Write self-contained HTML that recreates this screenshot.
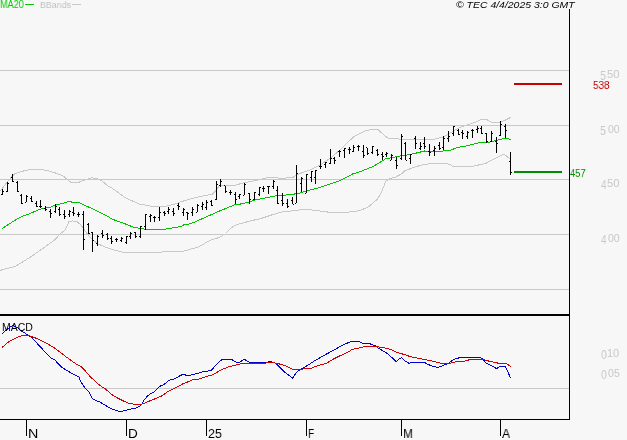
<!DOCTYPE html>
<html><head><meta charset="utf-8"><style>
html,body{margin:0;padding:0;background:#f7f7f7;}
#c{position:relative;width:627px;height:440px;overflow:hidden;background:#f7f7f7;font-family:"Liberation Sans",sans-serif;}
svg{position:absolute;left:0;top:0;}
.t{position:absolute;white-space:nowrap;line-height:1;transform-origin:0 0;will-change:transform;}
</style></head><body><div id="c">
<svg width="627" height="440" viewBox="0 0 627 440">
<rect x="0" y="70" width="569" height="1" fill="#c8c8c8"/>
<rect x="0" y="125" width="569" height="1" fill="#c8c8c8"/>
<rect x="0" y="179" width="569" height="1" fill="#c8c8c8"/>
<rect x="0" y="234" width="569" height="1" fill="#c8c8c8"/>
<rect x="0" y="289" width="569" height="1" fill="#c8c8c8"/>
<rect x="0" y="388" width="569" height="1" fill="#c8c8c8"/>
<polyline points="0.0,191.0 1.8,189.0 4.5,185.5 7.7,181.4 10.9,177.7 15.0,173.6 21.4,171.5 29.4,169.6 38.9,169.3 46.9,170.4 54.9,172.8 62.8,175.6 67.6,179.9 70.8,182.3 78.8,182.3 85.2,179.9 91.6,177.9 96.3,178.3 101.1,180.4 107.5,185.5 115.0,190.0 124.5,197.3 139.0,204.0 153.6,206.6 164.6,206.6 174.1,204.3 180.9,201.8 190.0,199.1 198.6,196.8 212.3,194.1 215.7,190.7 219.1,185.9 224.6,185.6 235.0,185.4 243.6,182.7 256.4,180.5 269.0,177.3 280.0,178.2 292.0,177.8 298.8,174.0 311.0,169.6 319.8,165.3 330.9,157.7 340.5,149.6 347.3,142.7 354.1,136.6 360.9,133.2 366.4,130.5 371.0,129.5 375.0,129.0 377.3,129.0 384.5,135.5 388.2,138.2 406.4,139.5 424.5,139.5 430.0,139.7 437.3,138.6 444.1,136.6 450.9,132.5 460.0,127.4 470.5,123.9 477.8,121.2 480.2,119.8 487.4,120.0 491.7,122.2 498.9,122.5 504.6,120.5 511.0,117.2" fill="none" stroke="#c8c8c8" stroke-width="1" shape-rendering="crispEdges"/>
<polyline points="0.0,270.5 3.0,269.5 14.8,266.6 29.5,257.7 44.3,247.4 54.5,240.0 60.0,234.1 65.5,229.5 69.1,221.4 72.7,220.9 77.3,221.8 80.9,225.0 84.5,230.0 87.3,234.0 91.8,239.0 97.3,243.6 106.4,247.6 117.7,251.0 124.5,252.5 145.0,252.7 150.0,252.5 170.0,251.7 183.4,251.3 198.7,246.9 210.2,240.2 219.8,237.3 225.5,233.5 231.2,227.8 237.0,224.5 250.4,221.0 261.9,218.2 273.3,214.4 284.8,211.1 290.0,211.2 298.8,210.0 307.5,209.5 316.3,210.5 325.1,211.8 339.1,213.0 351.4,211.8 360.0,210.5 368.2,207.1 377.7,198.9 381.8,191.4 385.9,181.1 388.6,179.1 395.5,177.1 400.9,174.3 405.0,170.6 411.8,168.2 420.0,165.5 424.5,164.2 439.0,163.3 450.0,164.2 453.0,166.8 471.0,166.8 486.0,163.2 504.0,154.0 510.5,159.5" fill="none" stroke="#c8c8c8" stroke-width="1" shape-rendering="crispEdges"/>
<polyline points="1.8,228.6 9.1,224.1 18.2,218.2 23.6,215.9 30.9,213.2 40.0,209.1 43.6,208.5 50.0,207.3 55.5,205.0 61.8,203.6 69.1,201.2 71.8,202.1 78.2,202.1 82.7,204.5 90.0,207.7 106.4,215.5 111.8,219.0 124.5,223.6 133.6,227.3 146.8,229.4 164.6,229.4 167.3,228.4 175.5,227.7 180.9,226.4 185.0,224.3 190.0,223.9 193.2,222.7 205.5,217.3 217.7,211.8 225.9,208.4 235.0,204.6 240.0,204.1 248.0,202.5 256.0,199.8 263.9,198.2 271.9,196.6 277.5,195.4 290.0,194.8 299.1,193.2 308.2,190.5 317.3,188.2 326.4,185.2 330.0,184.1 338.0,181.3 344.3,178.5 352.3,174.1 360.2,171.7 365.0,169.7 370.0,167.7 373.2,166.5 385.5,158.9 399.1,156.2 405.9,155.2 415.0,153.4 424.5,151.0 436.0,151.6 450.5,150.3 456.9,147.5 467.8,145.7 479.6,142.5 487.4,142.6 494.6,140.9 504.6,138.3 511.0,139.4" fill="none" stroke="#00c000" stroke-width="1" shape-rendering="crispEdges"/>
<rect x="2" y="189" width="1" height="6" fill="#000"/>
<rect x="1" y="194" width="1" height="1" fill="#000"/>
<rect x="3" y="191" width="1" height="1" fill="#000"/>
<rect x="7" y="182" width="1" height="10" fill="#000"/>
<rect x="6" y="191" width="1" height="1" fill="#000"/>
<rect x="8" y="183" width="1" height="1" fill="#000"/>
<rect x="12" y="174" width="1" height="8" fill="#000"/>
<rect x="11" y="177" width="1" height="1" fill="#000"/>
<rect x="13" y="181" width="1" height="1" fill="#000"/>
<rect x="17" y="181" width="1" height="11" fill="#000"/>
<rect x="16" y="182" width="1" height="1" fill="#000"/>
<rect x="18" y="191" width="1" height="1" fill="#000"/>
<rect x="21" y="194" width="1" height="10" fill="#000"/>
<rect x="20" y="195" width="1" height="1" fill="#000"/>
<rect x="22" y="203" width="1" height="1" fill="#000"/>
<rect x="26" y="195" width="1" height="7" fill="#000"/>
<rect x="25" y="202" width="1" height="1" fill="#000"/>
<rect x="27" y="196" width="1" height="1" fill="#000"/>
<rect x="31" y="196" width="1" height="6" fill="#000"/>
<rect x="30" y="198" width="1" height="1" fill="#000"/>
<rect x="32" y="201" width="1" height="1" fill="#000"/>
<rect x="36" y="201" width="1" height="6" fill="#000"/>
<rect x="35" y="203" width="1" height="1" fill="#000"/>
<rect x="37" y="206" width="1" height="1" fill="#000"/>
<rect x="40" y="200" width="1" height="8" fill="#000"/>
<rect x="39" y="206" width="1" height="1" fill="#000"/>
<rect x="41" y="206" width="1" height="1" fill="#000"/>
<rect x="45" y="206" width="1" height="5" fill="#000"/>
<rect x="44" y="208" width="1" height="1" fill="#000"/>
<rect x="46" y="209" width="1" height="1" fill="#000"/>
<rect x="50" y="209" width="1" height="9" fill="#000"/>
<rect x="49" y="211" width="1" height="1" fill="#000"/>
<rect x="51" y="213" width="1" height="1" fill="#000"/>
<rect x="55" y="204" width="1" height="9" fill="#000"/>
<rect x="54" y="211" width="1" height="1" fill="#000"/>
<rect x="56" y="206" width="1" height="1" fill="#000"/>
<rect x="59" y="207" width="1" height="9" fill="#000"/>
<rect x="58" y="209" width="1" height="1" fill="#000"/>
<rect x="60" y="214" width="1" height="1" fill="#000"/>
<rect x="64" y="210" width="1" height="9" fill="#000"/>
<rect x="63" y="214" width="1" height="1" fill="#000"/>
<rect x="65" y="216" width="1" height="1" fill="#000"/>
<rect x="69" y="210" width="1" height="7" fill="#000"/>
<rect x="68" y="214" width="1" height="1" fill="#000"/>
<rect x="70" y="211" width="1" height="1" fill="#000"/>
<rect x="73" y="207" width="1" height="9" fill="#000"/>
<rect x="72" y="212" width="1" height="1" fill="#000"/>
<rect x="74" y="213" width="1" height="1" fill="#000"/>
<rect x="78" y="212" width="1" height="5" fill="#000"/>
<rect x="77" y="214" width="1" height="1" fill="#000"/>
<rect x="79" y="214" width="1" height="1" fill="#000"/>
<rect x="83" y="211" width="1" height="39" fill="#000"/>
<rect x="82" y="214" width="1" height="1" fill="#000"/>
<rect x="84" y="239" width="1" height="1" fill="#000"/>
<rect x="88" y="223" width="1" height="11" fill="#000"/>
<rect x="87" y="224" width="1" height="1" fill="#000"/>
<rect x="89" y="233" width="1" height="1" fill="#000"/>
<rect x="92" y="232" width="1" height="20" fill="#000"/>
<rect x="91" y="232" width="1" height="1" fill="#000"/>
<rect x="93" y="240" width="1" height="1" fill="#000"/>
<rect x="97" y="235" width="1" height="11" fill="#000"/>
<rect x="96" y="243" width="1" height="1" fill="#000"/>
<rect x="98" y="236" width="1" height="1" fill="#000"/>
<rect x="102" y="230" width="1" height="8" fill="#000"/>
<rect x="101" y="233" width="1" height="1" fill="#000"/>
<rect x="103" y="235" width="1" height="1" fill="#000"/>
<rect x="107" y="233" width="1" height="7" fill="#000"/>
<rect x="106" y="234" width="1" height="1" fill="#000"/>
<rect x="108" y="238" width="1" height="1" fill="#000"/>
<rect x="111" y="236" width="1" height="8" fill="#000"/>
<rect x="110" y="238" width="1" height="1" fill="#000"/>
<rect x="112" y="241" width="1" height="1" fill="#000"/>
<rect x="116" y="238" width="1" height="4" fill="#000"/>
<rect x="115" y="239" width="1" height="1" fill="#000"/>
<rect x="117" y="239" width="1" height="1" fill="#000"/>
<rect x="121" y="237" width="1" height="5" fill="#000"/>
<rect x="120" y="240" width="1" height="1" fill="#000"/>
<rect x="122" y="238" width="1" height="1" fill="#000"/>
<rect x="126" y="236" width="1" height="8" fill="#000"/>
<rect x="125" y="242" width="1" height="1" fill="#000"/>
<rect x="127" y="236" width="1" height="1" fill="#000"/>
<rect x="130" y="232" width="1" height="7" fill="#000"/>
<rect x="129" y="236" width="1" height="1" fill="#000"/>
<rect x="131" y="233" width="1" height="1" fill="#000"/>
<rect x="135" y="232" width="1" height="6" fill="#000"/>
<rect x="134" y="232" width="1" height="1" fill="#000"/>
<rect x="136" y="236" width="1" height="1" fill="#000"/>
<rect x="140" y="226" width="1" height="12" fill="#000"/>
<rect x="139" y="236" width="1" height="1" fill="#000"/>
<rect x="141" y="226" width="1" height="1" fill="#000"/>
<rect x="145" y="214" width="1" height="16" fill="#000"/>
<rect x="144" y="226" width="1" height="1" fill="#000"/>
<rect x="146" y="214" width="1" height="1" fill="#000"/>
<rect x="150" y="214" width="1" height="8" fill="#000"/>
<rect x="149" y="216" width="1" height="1" fill="#000"/>
<rect x="151" y="215" width="1" height="1" fill="#000"/>
<rect x="154" y="216" width="1" height="6" fill="#000"/>
<rect x="153" y="217" width="1" height="1" fill="#000"/>
<rect x="155" y="217" width="1" height="1" fill="#000"/>
<rect x="159" y="207" width="1" height="14" fill="#000"/>
<rect x="158" y="217" width="1" height="1" fill="#000"/>
<rect x="160" y="212" width="1" height="1" fill="#000"/>
<rect x="164" y="211" width="1" height="5" fill="#000"/>
<rect x="163" y="212" width="1" height="1" fill="#000"/>
<rect x="165" y="213" width="1" height="1" fill="#000"/>
<rect x="168" y="207" width="1" height="7" fill="#000"/>
<rect x="167" y="211" width="1" height="1" fill="#000"/>
<rect x="169" y="209" width="1" height="1" fill="#000"/>
<rect x="173" y="208" width="1" height="8" fill="#000"/>
<rect x="172" y="211" width="1" height="1" fill="#000"/>
<rect x="174" y="213" width="1" height="1" fill="#000"/>
<rect x="178" y="203" width="1" height="7" fill="#000"/>
<rect x="177" y="205" width="1" height="1" fill="#000"/>
<rect x="179" y="206" width="1" height="1" fill="#000"/>
<rect x="183" y="208" width="1" height="8" fill="#000"/>
<rect x="182" y="212" width="1" height="1" fill="#000"/>
<rect x="184" y="209" width="1" height="1" fill="#000"/>
<rect x="187" y="212" width="1" height="8" fill="#000"/>
<rect x="186" y="212" width="1" height="1" fill="#000"/>
<rect x="188" y="213" width="1" height="1" fill="#000"/>
<rect x="192" y="207" width="1" height="9" fill="#000"/>
<rect x="191" y="212" width="1" height="1" fill="#000"/>
<rect x="193" y="209" width="1" height="1" fill="#000"/>
<rect x="197" y="204" width="1" height="8" fill="#000"/>
<rect x="196" y="212" width="1" height="1" fill="#000"/>
<rect x="198" y="205" width="1" height="1" fill="#000"/>
<rect x="202" y="202" width="1" height="8" fill="#000"/>
<rect x="201" y="206" width="1" height="1" fill="#000"/>
<rect x="203" y="204" width="1" height="1" fill="#000"/>
<rect x="206" y="200" width="1" height="10" fill="#000"/>
<rect x="205" y="207" width="1" height="1" fill="#000"/>
<rect x="207" y="202" width="1" height="1" fill="#000"/>
<rect x="211" y="200" width="1" height="6" fill="#000"/>
<rect x="210" y="201" width="1" height="1" fill="#000"/>
<rect x="212" y="205" width="1" height="1" fill="#000"/>
<rect x="216" y="181" width="1" height="19" fill="#000"/>
<rect x="215" y="199" width="1" height="1" fill="#000"/>
<rect x="217" y="184" width="1" height="1" fill="#000"/>
<rect x="220" y="179" width="1" height="8" fill="#000"/>
<rect x="219" y="185" width="1" height="1" fill="#000"/>
<rect x="221" y="181" width="1" height="1" fill="#000"/>
<rect x="225" y="186" width="1" height="7" fill="#000"/>
<rect x="224" y="185" width="1" height="1" fill="#000"/>
<rect x="226" y="191" width="1" height="1" fill="#000"/>
<rect x="230" y="190" width="1" height="5" fill="#000"/>
<rect x="229" y="192" width="1" height="1" fill="#000"/>
<rect x="231" y="192" width="1" height="1" fill="#000"/>
<rect x="235" y="192" width="1" height="12" fill="#000"/>
<rect x="234" y="194" width="1" height="1" fill="#000"/>
<rect x="236" y="199" width="1" height="1" fill="#000"/>
<rect x="239" y="194" width="1" height="5" fill="#000"/>
<rect x="238" y="196" width="1" height="1" fill="#000"/>
<rect x="240" y="194" width="1" height="1" fill="#000"/>
<rect x="244" y="183" width="1" height="12" fill="#000"/>
<rect x="243" y="195" width="1" height="1" fill="#000"/>
<rect x="245" y="184" width="1" height="1" fill="#000"/>
<rect x="249" y="193" width="1" height="11" fill="#000"/>
<rect x="248" y="193" width="1" height="1" fill="#000"/>
<rect x="250" y="199" width="1" height="1" fill="#000"/>
<rect x="254" y="192" width="1" height="8" fill="#000"/>
<rect x="253" y="199" width="1" height="1" fill="#000"/>
<rect x="255" y="192" width="1" height="1" fill="#000"/>
<rect x="259" y="187" width="1" height="9" fill="#000"/>
<rect x="258" y="194" width="1" height="1" fill="#000"/>
<rect x="260" y="187" width="1" height="1" fill="#000"/>
<rect x="263" y="186" width="1" height="6" fill="#000"/>
<rect x="262" y="188" width="1" height="1" fill="#000"/>
<rect x="264" y="188" width="1" height="1" fill="#000"/>
<rect x="268" y="186" width="1" height="8" fill="#000"/>
<rect x="267" y="186" width="1" height="1" fill="#000"/>
<rect x="269" y="186" width="1" height="1" fill="#000"/>
<rect x="273" y="180" width="1" height="9" fill="#000"/>
<rect x="272" y="186" width="1" height="1" fill="#000"/>
<rect x="274" y="181" width="1" height="1" fill="#000"/>
<rect x="277" y="186" width="1" height="18" fill="#000"/>
<rect x="276" y="190" width="1" height="1" fill="#000"/>
<rect x="278" y="203" width="1" height="1" fill="#000"/>
<rect x="282" y="193" width="1" height="13" fill="#000"/>
<rect x="281" y="200" width="1" height="1" fill="#000"/>
<rect x="283" y="203" width="1" height="1" fill="#000"/>
<rect x="287" y="199" width="1" height="9" fill="#000"/>
<rect x="286" y="203" width="1" height="1" fill="#000"/>
<rect x="288" y="206" width="1" height="1" fill="#000"/>
<rect x="292" y="197" width="1" height="7" fill="#000"/>
<rect x="291" y="200" width="1" height="1" fill="#000"/>
<rect x="293" y="204" width="1" height="1" fill="#000"/>
<rect x="296" y="165" width="1" height="38" fill="#000"/>
<rect x="295" y="203" width="1" height="1" fill="#000"/>
<rect x="297" y="173" width="1" height="1" fill="#000"/>
<rect x="301" y="177" width="1" height="15" fill="#000"/>
<rect x="300" y="183" width="1" height="1" fill="#000"/>
<rect x="302" y="178" width="1" height="1" fill="#000"/>
<rect x="306" y="174" width="1" height="19" fill="#000"/>
<rect x="305" y="193" width="1" height="1" fill="#000"/>
<rect x="307" y="174" width="1" height="1" fill="#000"/>
<rect x="311" y="171" width="1" height="11" fill="#000"/>
<rect x="310" y="177" width="1" height="1" fill="#000"/>
<rect x="312" y="171" width="1" height="1" fill="#000"/>
<rect x="315" y="170" width="1" height="14" fill="#000"/>
<rect x="314" y="177" width="1" height="1" fill="#000"/>
<rect x="316" y="170" width="1" height="1" fill="#000"/>
<rect x="320" y="159" width="1" height="10" fill="#000"/>
<rect x="319" y="166" width="1" height="1" fill="#000"/>
<rect x="321" y="166" width="1" height="1" fill="#000"/>
<rect x="325" y="162" width="1" height="6" fill="#000"/>
<rect x="324" y="164" width="1" height="1" fill="#000"/>
<rect x="326" y="162" width="1" height="1" fill="#000"/>
<rect x="330" y="149" width="1" height="15" fill="#000"/>
<rect x="329" y="163" width="1" height="1" fill="#000"/>
<rect x="331" y="158" width="1" height="1" fill="#000"/>
<rect x="334" y="157" width="1" height="7" fill="#000"/>
<rect x="333" y="158" width="1" height="1" fill="#000"/>
<rect x="335" y="160" width="1" height="1" fill="#000"/>
<rect x="339" y="150" width="1" height="7" fill="#000"/>
<rect x="338" y="151" width="1" height="1" fill="#000"/>
<rect x="340" y="151" width="1" height="1" fill="#000"/>
<rect x="344" y="148" width="1" height="10" fill="#000"/>
<rect x="343" y="150" width="1" height="1" fill="#000"/>
<rect x="345" y="148" width="1" height="1" fill="#000"/>
<rect x="349" y="147" width="1" height="7" fill="#000"/>
<rect x="348" y="149" width="1" height="1" fill="#000"/>
<rect x="350" y="149" width="1" height="1" fill="#000"/>
<rect x="353" y="145" width="1" height="7" fill="#000"/>
<rect x="352" y="151" width="1" height="1" fill="#000"/>
<rect x="354" y="147" width="1" height="1" fill="#000"/>
<rect x="358" y="145" width="1" height="6" fill="#000"/>
<rect x="357" y="146" width="1" height="1" fill="#000"/>
<rect x="359" y="146" width="1" height="1" fill="#000"/>
<rect x="363" y="145" width="1" height="13" fill="#000"/>
<rect x="362" y="151" width="1" height="1" fill="#000"/>
<rect x="364" y="155" width="1" height="1" fill="#000"/>
<rect x="367" y="148" width="1" height="7" fill="#000"/>
<rect x="366" y="147" width="1" height="1" fill="#000"/>
<rect x="368" y="153" width="1" height="1" fill="#000"/>
<rect x="372" y="146" width="1" height="8" fill="#000"/>
<rect x="371" y="152" width="1" height="1" fill="#000"/>
<rect x="373" y="146" width="1" height="1" fill="#000"/>
<rect x="377" y="149" width="1" height="7" fill="#000"/>
<rect x="376" y="150" width="1" height="1" fill="#000"/>
<rect x="378" y="154" width="1" height="1" fill="#000"/>
<rect x="382" y="152" width="1" height="8" fill="#000"/>
<rect x="381" y="154" width="1" height="1" fill="#000"/>
<rect x="383" y="156" width="1" height="1" fill="#000"/>
<rect x="386" y="152" width="1" height="5" fill="#000"/>
<rect x="385" y="154" width="1" height="1" fill="#000"/>
<rect x="387" y="153" width="1" height="1" fill="#000"/>
<rect x="391" y="154" width="1" height="6" fill="#000"/>
<rect x="390" y="160" width="1" height="1" fill="#000"/>
<rect x="392" y="155" width="1" height="1" fill="#000"/>
<rect x="396" y="157" width="1" height="12" fill="#000"/>
<rect x="395" y="160" width="1" height="1" fill="#000"/>
<rect x="397" y="165" width="1" height="1" fill="#000"/>
<rect x="401" y="134" width="1" height="26" fill="#000"/>
<rect x="400" y="158" width="1" height="1" fill="#000"/>
<rect x="402" y="136" width="1" height="1" fill="#000"/>
<rect x="405" y="142" width="1" height="18" fill="#000"/>
<rect x="404" y="143" width="1" height="1" fill="#000"/>
<rect x="406" y="160" width="1" height="1" fill="#000"/>
<rect x="410" y="154" width="1" height="10" fill="#000"/>
<rect x="409" y="158" width="1" height="1" fill="#000"/>
<rect x="411" y="154" width="1" height="1" fill="#000"/>
<rect x="415" y="136" width="1" height="13" fill="#000"/>
<rect x="414" y="138" width="1" height="1" fill="#000"/>
<rect x="416" y="143" width="1" height="1" fill="#000"/>
<rect x="420" y="142" width="1" height="8" fill="#000"/>
<rect x="419" y="148" width="1" height="1" fill="#000"/>
<rect x="421" y="146" width="1" height="1" fill="#000"/>
<rect x="424" y="137" width="1" height="12" fill="#000"/>
<rect x="423" y="143" width="1" height="1" fill="#000"/>
<rect x="425" y="146" width="1" height="1" fill="#000"/>
<rect x="429" y="144" width="1" height="12" fill="#000"/>
<rect x="428" y="151" width="1" height="1" fill="#000"/>
<rect x="430" y="152" width="1" height="1" fill="#000"/>
<rect x="434" y="146" width="1" height="10" fill="#000"/>
<rect x="433" y="150" width="1" height="1" fill="#000"/>
<rect x="435" y="148" width="1" height="1" fill="#000"/>
<rect x="439" y="142" width="1" height="8" fill="#000"/>
<rect x="438" y="145" width="1" height="1" fill="#000"/>
<rect x="440" y="148" width="1" height="1" fill="#000"/>
<rect x="443" y="136" width="1" height="14" fill="#000"/>
<rect x="442" y="147" width="1" height="1" fill="#000"/>
<rect x="444" y="138" width="1" height="1" fill="#000"/>
<rect x="448" y="131" width="1" height="11" fill="#000"/>
<rect x="447" y="138" width="1" height="1" fill="#000"/>
<rect x="449" y="136" width="1" height="1" fill="#000"/>
<rect x="453" y="126" width="1" height="10" fill="#000"/>
<rect x="452" y="133" width="1" height="1" fill="#000"/>
<rect x="454" y="126" width="1" height="1" fill="#000"/>
<rect x="458" y="129" width="1" height="6" fill="#000"/>
<rect x="457" y="130" width="1" height="1" fill="#000"/>
<rect x="459" y="134" width="1" height="1" fill="#000"/>
<rect x="462" y="130" width="1" height="9" fill="#000"/>
<rect x="461" y="132" width="1" height="1" fill="#000"/>
<rect x="463" y="133" width="1" height="1" fill="#000"/>
<rect x="467" y="131" width="1" height="8" fill="#000"/>
<rect x="466" y="136" width="1" height="1" fill="#000"/>
<rect x="468" y="132" width="1" height="1" fill="#000"/>
<rect x="472" y="129" width="1" height="9" fill="#000"/>
<rect x="471" y="130" width="1" height="1" fill="#000"/>
<rect x="473" y="130" width="1" height="1" fill="#000"/>
<rect x="477" y="126" width="1" height="7" fill="#000"/>
<rect x="476" y="129" width="1" height="1" fill="#000"/>
<rect x="478" y="128" width="1" height="1" fill="#000"/>
<rect x="481" y="126" width="1" height="8" fill="#000"/>
<rect x="480" y="128" width="1" height="1" fill="#000"/>
<rect x="482" y="133" width="1" height="1" fill="#000"/>
<rect x="486" y="133" width="1" height="10" fill="#000"/>
<rect x="485" y="133" width="1" height="1" fill="#000"/>
<rect x="487" y="141" width="1" height="1" fill="#000"/>
<rect x="491" y="131" width="1" height="11" fill="#000"/>
<rect x="490" y="141" width="1" height="1" fill="#000"/>
<rect x="492" y="133" width="1" height="1" fill="#000"/>
<rect x="496" y="137" width="1" height="16" fill="#000"/>
<rect x="495" y="141" width="1" height="1" fill="#000"/>
<rect x="497" y="143" width="1" height="1" fill="#000"/>
<rect x="500" y="121" width="1" height="15" fill="#000"/>
<rect x="499" y="135" width="1" height="1" fill="#000"/>
<rect x="501" y="124" width="1" height="1" fill="#000"/>
<rect x="505" y="124" width="1" height="14" fill="#000"/>
<rect x="504" y="126" width="1" height="1" fill="#000"/>
<rect x="506" y="130" width="1" height="1" fill="#000"/>
<rect x="510" y="152" width="1" height="23" fill="#000"/>
<rect x="509" y="161" width="1" height="1" fill="#000"/>
<rect x="511" y="172" width="1" height="1" fill="#000"/>
<rect x="514" y="83" width="48" height="2" fill="#c80000"/>
<rect x="514" y="171" width="48" height="2" fill="#008c00"/>
<polyline points="2.0,333.6 5.6,330.8 9.6,327.2 12.8,325.6 16.7,327.2 20.7,330.4 26.3,334.0 31.9,337.5 38.3,344.7 45.0,351.9 51.2,358.1 55.0,360.0 57.5,363.1 61.2,366.9 66.2,370.0 72.5,373.8 78.8,376.9 81.2,382.5 85.0,388.0 89.1,392.0 92.2,398.6 95.2,400.2 100.3,402.2 105.4,405.3 110.6,408.3 115.7,410.4 119.8,411.4 123.9,410.9 129.0,409.4 135.0,408.4 139.5,406.4 141.8,404.1 144.5,399.5 147.7,395.9 150.5,393.5 153.6,392.3 159.5,386.4 162.3,385.3 164.5,384.1 168.6,380.5 173.6,379.1 178.2,376.8 182.7,374.3 184.5,374.3 186.4,375.5 189.5,375.5 192.7,374.4 197.3,373.5 200.9,372.3 205.5,371.4 210.9,370.5 214.5,366.8 220.6,360.4 223.0,359.4 231.7,359.4 234.1,361.2 237.3,362.4 239.7,362.0 244.5,359.4 248.5,361.8 251.7,362.6 265.8,362.4 270.0,361.8 274.5,362.4 279.7,367.1 285.3,372.7 290.1,376.3 292.5,378.3 295.7,373.5 298.1,371.1 300.0,370.0 304.5,367.3 309.1,364.5 313.6,361.4 318.2,358.8 322.7,356.1 327.3,353.6 331.8,351.2 336.4,348.6 340.9,345.9 345.0,344.2 348.2,342.6 351.4,341.4 359.4,341.4 361.7,343.0 368.9,343.4 372.1,344.6 375.3,345.8 378.5,348.2 383.3,351.0 388.1,354.1 392.0,357.7 396.4,361.7 398.8,359.4 401.6,357.4 405.2,361.0 409.1,363.3 413.1,362.4 424.3,362.4 428.3,364.5 433.1,366.5 438.2,367.5 441.4,366.1 444.6,364.8 447.8,363.7 451.0,361.3 454.1,359.4 457.3,358.4 460.5,357.4 479.0,357.4 482.2,358.4 486.1,363.1 490.1,365.1 493.3,366.7 496.5,368.7 499.7,366.5 505.2,366.5 507.6,370.7 510.4,378.2" fill="none" stroke="#0000d0" stroke-width="1" shape-rendering="crispEdges"/>
<polyline points="2.0,347.5 8.0,342.3 13.6,339.1 19.1,336.3 24.7,335.2 28.7,335.6 33.5,337.1 39.9,339.9 45.0,342.5 53.8,347.5 58.8,351.2 66.2,356.9 73.8,362.5 81.2,366.9 85.0,370.5 90.1,376.6 95.2,381.2 100.3,385.8 105.4,388.9 111.6,394.5 117.7,398.1 123.9,401.2 127.9,402.9 135.0,404.4 140.5,404.4 144.1,403.5 148.6,401.4 153.2,399.5 157.7,397.7 162.3,395.6 166.8,392.3 170.0,390.5 174.5,388.2 179.1,385.9 183.6,383.4 188.2,381.8 192.7,379.5 197.3,379.4 201.8,378.2 206.4,376.4 210.9,375.5 215.0,373.5 219.0,371.1 223.0,369.1 227.8,367.1 231.0,366.3 234.9,365.3 238.1,364.4 242.1,363.7 246.9,363.4 265.0,363.4 266.5,362.6 274.5,362.6 275.7,363.2 281.3,364.4 286.9,366.3 292.5,369.1 302.8,369.1 304.5,368.5 310.9,368.5 315.5,366.4 320.9,364.8 326.4,363.2 330.9,360.5 336.4,357.5 341.8,355.0 346.4,352.7 350.0,350.9 352.2,349.4 357.0,348.4 361.7,347.4 365.7,346.4 372.9,346.4 378.5,347.0 383.3,347.8 388.1,348.6 391.3,349.8 394.8,351.4 399.6,353.4 404.4,354.4 409.1,356.2 413.9,357.4 418.7,358.4 423.5,359.4 428.3,360.3 433.1,361.3 438.2,362.4 441.4,363.5 449.4,363.5 452.5,362.5 456.5,361.6 464.5,361.3 470.1,359.5 483.0,359.4 486.1,360.3 490.1,361.5 494.9,362.3 498.9,363.4 505.2,363.4 507.6,364.3 510.8,366.5" fill="none" stroke="#d00000" stroke-width="1" shape-rendering="crispEdges"/>
<rect x="569" y="9" width="1" height="411" fill="#000"/>
<rect x="0" y="314" width="570" height="2" fill="#000"/>
<rect x="0" y="419" width="570" height="1" fill="#000"/>
<rect x="26" y="420" width="1" height="16" fill="#000"/>
<rect x="126" y="420" width="1" height="16" fill="#000"/>
<rect x="206" y="420" width="1" height="16" fill="#000"/>
<rect x="306" y="420" width="1" height="16" fill="#000"/>
<rect x="401" y="420" width="1" height="16" fill="#000"/>
<rect x="500" y="420" width="1" height="16" fill="#000"/>
</svg>
<div class="t" style="left:0.29px;top:0.32px;font-size:10.00px;transform:scale(0.912,1);color:#00cc00;font-style:normal;font-weight:400">MA20</div>
<div class="t" style="left:40.29px;top:-0.14px;font-size:9.46px;transform:scale(0.936,1);color:#c0c0c0;font-style:normal;font-weight:400">BBands</div>
<div class="t" style="left:455.69px;top:-0.14px;font-size:9.46px;transform:scale(1.105,1);color:#000;font-style:italic;font-weight:400">© TEC 4/4/2025 3:0 GMT</div>
<div class="t" style="left:2.18px;top:323.32px;font-size:10.00px;transform:scale(1.049,1);color:#000;font-style:normal;font-weight:400">MACD</div>
<div class="t" style="left:599.77px;top:69.74px;font-size:12.86px;transform:scale(0.827,1);color:#c8c8c8;font-style:normal;font-weight:400">5</div>
<div class="t" style="left:606.77px;top:70.32px;font-size:10.00px;transform:scale(1.121,1);color:#c8c8c8;font-style:normal;font-weight:400">50</div>
<div class="t" style="left:599.77px;top:124.74px;font-size:12.86px;transform:scale(0.827,1);color:#c8c8c8;font-style:normal;font-weight:400">5</div>
<div class="t" style="left:607.57px;top:125.32px;font-size:10.00px;transform:scale(1.052,1);color:#c8c8c8;font-style:normal;font-weight:400">00</div>
<div class="t" style="left:600.80px;top:177.88px;font-size:13.24px;transform:scale(0.741,1);color:#c8c8c8;font-style:normal;font-weight:400">4</div>
<div class="t" style="left:606.77px;top:179.32px;font-size:10.00px;transform:scale(1.121,1);color:#c8c8c8;font-style:normal;font-weight:400">50</div>
<div class="t" style="left:600.80px;top:232.88px;font-size:13.24px;transform:scale(0.741,1);color:#c8c8c8;font-style:normal;font-weight:400">4</div>
<div class="t" style="left:607.57px;top:234.32px;font-size:10.00px;transform:scale(1.052,1);color:#c8c8c8;font-style:normal;font-weight:400">00</div>
<div class="t" style="left:600.58px;top:348.90px;font-size:12.68px;transform:scale(0.822,1);color:#c8c8c8;font-style:normal;font-weight:400">0</div>
<div class="t" style="left:607.11px;top:349.32px;font-size:10.00px;transform:scale(1.098,1);color:#c8c8c8;font-style:normal;font-weight:400">10</div>
<div class="t" style="left:600.58px;top:368.90px;font-size:12.68px;transform:scale(0.822,1);color:#c8c8c8;font-style:normal;font-weight:400">0</div>
<div class="t" style="left:607.57px;top:369.32px;font-size:10.00px;transform:scale(1.058,1);color:#c8c8c8;font-style:normal;font-weight:400">05</div>
<div class="t" style="left:592.82px;top:80.11px;font-size:11.27px;transform:scale(0.884,1);color:#c80000;font-style:normal;font-weight:400">538</div>
<div class="t" style="left:569.81px;top:167.97px;font-size:11.43px;transform:scale(0.820,1);color:#008c00;font-style:normal;font-weight:400">457</div>
<div class="t" style="left:27.86px;top:426.91px;font-size:13.04px;transform:scale(1.095,1);color:#000;font-style:normal;font-weight:400">N</div>
<div class="t" style="left:127.92px;top:426.91px;font-size:13.04px;transform:scale(1.040,1);color:#000;font-style:normal;font-weight:400">D</div>
<div class="t" style="left:208.41px;top:427.90px;font-size:12.68px;transform:scale(0.986,1);color:#000;font-style:normal;font-weight:400">25</div>
<div class="t" style="left:308.18px;top:426.91px;font-size:13.04px;transform:scale(0.782,1);color:#000;font-style:normal;font-weight:400">F</div>
<div class="t" style="left:403.04px;top:426.91px;font-size:13.04px;transform:scale(0.915,1);color:#000;font-style:normal;font-weight:400">M</div>
<div class="t" style="left:502.00px;top:426.91px;font-size:13.04px;transform:scale(0.929,1);color:#000;font-style:normal;font-weight:400">A</div>
<div style="position:absolute;left:25px;top:4px;width:9px;height:1px;background:#00cc00"></div>
<div style="position:absolute;left:72px;top:4px;width:9px;height:1px;background:#c8c8c8"></div>
</div></body></html>
